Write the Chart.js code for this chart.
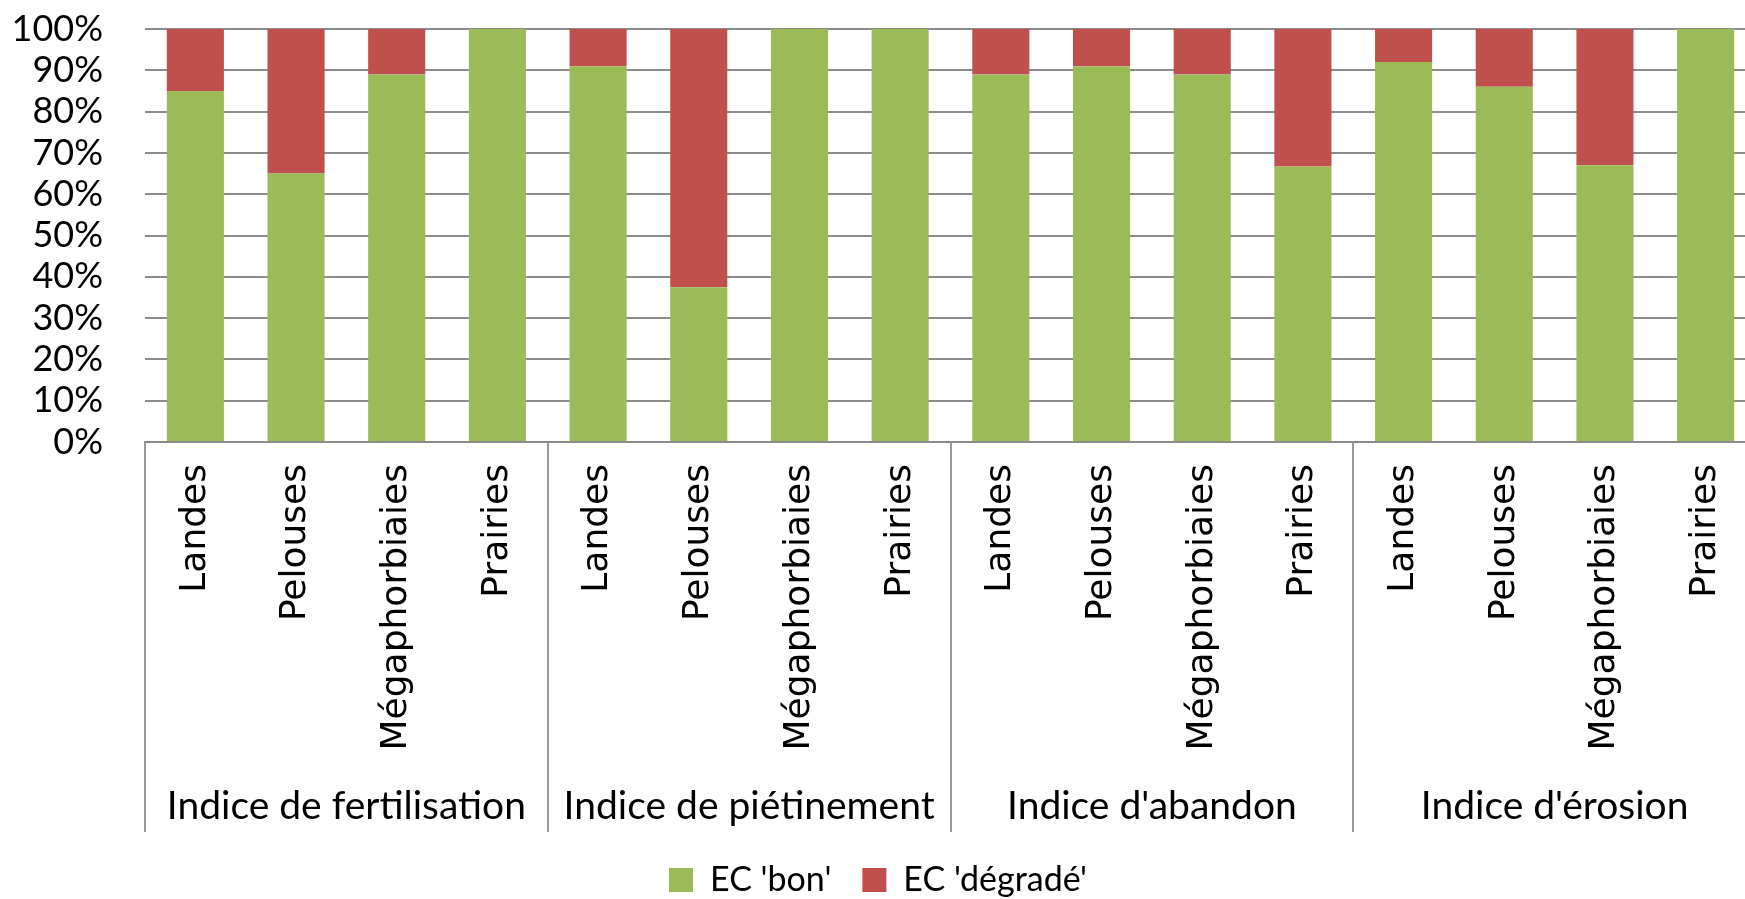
<!DOCTYPE html>
<html>
<head>
<meta charset="utf-8">
<script src="https://cdn.jsdelivr.net/npm/chart.js@4/dist/chart.umd.min.js"></script>
<style>
  html, body { margin: 0; padding: 0; background: #fff; overflow: hidden; }
  #wrap { width: 1760px; height: 907px; }
</style>
</head>
<body>
<div id="wrap"><canvas id="chart"></canvas></div>
<script>
const groupes = ['Indice de fertilisation', 'Indice de piétinement', "Indice d'abandon", "Indice d'érosion"];
const milieux = ['Landes', 'Pelouses', 'Mégaphorbiaies', 'Prairies'];
const ecBon = [85, 65, 89, 100, 91, 37.5, 100, 100, 89, 91, 89, 66.7, 92, 86, 67, 100];
const ecDegrade = [15, 35, 11, 0, 9, 62.5, 0, 0, 11, 9, 11, 33.3, 8, 14, 33, 0];
const yTicks = [0, 10, 20, 30, 40, 50, 60, 70, 80, 90, 100];

const etiquettes = [];
groupes.forEach(() => milieux.forEach(m => etiquettes.push(m)));

const gris = '#8c8c8c';

// traits verticaux entre les groupes, sous l'axe
const separateurs = {
    id: 'separateurs',
    afterDraw(chart) {
        const x = chart.scales.x;
        const x2 = chart.scales.x2;
        const demi = (x.getPixelForValue(1) - x.getPixelForValue(0)) / 2;
        const ctx = chart.ctx;
        ctx.save();
        ctx.strokeStyle = '#9a9a9a';
        ctx.lineWidth = 2;
        for (let g = 0; g <= groupes.length; g++) {
            const px = Math.round(x.getPixelForValue(g * milieux.length) - demi);
            ctx.beginPath();
            ctx.moveTo(px, chart.chartArea.bottom);
            ctx.lineTo(px, x2.bottom);
            ctx.stroke();
        }
        ctx.restore();
    }
};

new Chart(document.getElementById('chart'), {
    type: 'bar',
    data: {
        labels: etiquettes,
        datasets: [
            { label: "EC 'bon'", data: ecBon, backgroundColor: '#9BBB59', borderWidth: 0 },
            { label: "EC 'dégradé'", data: ecDegrade, backgroundColor: '#C0504D', borderWidth: 0 }
        ]
    },
    options: {
        responsive: true,
        maintainAspectRatio: false,
        animation: false,
        datasets: { bar: { barPercentage: 0.567, categoryPercentage: 1 } },
        layout: { padding: { top: 29, right: 4, bottom: 0, left: 0 } },
        plugins: {
            legend: {
                position: 'bottom',
                labels: {
                    boxWidth: 24,
                    boxHeight: 24,
                    padding: 31,
                    color: '#000',
                    font: { family: 'Lato', size: 34 }
                }
            },
            tooltip: { enabled: false }
        },
        scales: {
            x: {
                stacked: true,
                grid: { display: false, drawTicks: false },
                border: { display: true, color: gris, width: 2 },
                ticks: {
                    minRotation: 90,
                    maxRotation: 90,
                    autoSkip: false,
                    padding: 22,
                    color: '#000',
                    font: { family: '"DejaVu Sans", Verdana, sans-serif', size: 36 }
                },
                afterFit(scale) {
                    scale.height = 314;
                    scale.paddingLeft = 0;
                    scale.paddingRight = 0;
                }
            },
            x2: {
                type: 'category',
                position: 'bottom',
                labels: groupes,
                offset: true,
                grid: { display: false, drawTicks: false },
                border: { display: false },
                ticks: {
                    autoSkip: false,
                    maxRotation: 0,
                    padding: 27,
                    color: '#000',
                    font: { family: 'Lato', size: 39 }
                },
                afterFit(scale) {
                    scale.height = 76;
                    scale.paddingLeft = 0;
                    scale.paddingRight = 0;
                }
            },
            y: {
                stacked: true,
                min: 0,
                max: 100,
                afterBuildTicks(scale) { scale.ticks = yTicks.map(v => ({ value: v })); },
                grid: { color: gris, lineWidth: 2, drawTicks: false },
                border: { display: false },
                ticks: {
                    autoSkip: false,
                    padding: 42,
                    color: '#000',
                    font: { family: 'Lato', size: 36 },
                    callback: v => v + '%'
                },
                afterFit(scale) {
                    scale.width = 145;
                    scale.paddingTop = 22;
                    scale.paddingBottom = 22;
                }
            }
        }
    },
    plugins: [separateurs]
});
</script>
</body>
</html>
